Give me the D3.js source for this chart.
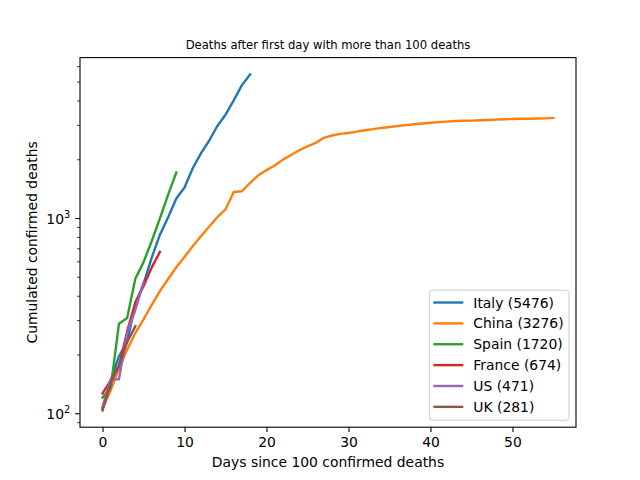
<!doctype html>
<html lang="en">
	<head>
		<meta charset="utf-8">
		<title>Deaths after first day with more than 100 deaths</title>
		<script src="https://d3js.org/d3.v7.min.js"></script>
		<style>
			body { margin: 0; background: #fff; }
			text { font-family: 'DejaVu Sans', sans-serif; fill: #000; }
			.series path { fill: none; stroke-width: 2.4px; stroke-linejoin: round; stroke-linecap: square; }
		</style>
	</head>
	<body>
		<div id="chart"></div>

		<script>
			// cumulated deaths, one value per day since the first day over 100
			let countries = ['Italy', 'China', 'Spain', 'France', 'US', 'UK']
			let colors = ['#1f77b4', '#ff7f0e', '#2ca02c', '#d62728', '#9467bd', '#8c564b']

			let italy = [107, 148, 197, 233, 366, 463, 631, 827, 1016, 1266, 1441, 1809, 2158, 2503, 2978, 3405, 4032, 4825, 5476]
			let china = [106, 132, 170, 213, 259, 304, 361, 425, 490, 563, 636, 722, 811, 908, 1016, 1113,
				1367, 1380, 1523, 1665, 1770, 1868, 2004, 2118, 2236, 2345, 2442, 2592, 2663, 2715, 2744, 2788,
				2835, 2870, 2912, 2943, 2981, 3012, 3042, 3070, 3097, 3119, 3136, 3158, 3169, 3176, 3189, 3199,
				3213, 3226, 3237, 3245, 3248, 3255, 3261, 3276]
			let spain = [121, 136, 289, 309, 491, 598, 767, 1002, 1326, 1720]
			let france = [127, 148, 175, 264, 372, 450, 562, 674]
			let us = [108, 150, 150, 260, 340, 471]
			let uk = [104, 144, 177, 233, 281]

			let xTicks = [0, 10, 20, 30, 40, 50]

			let series = [italy, china, spain, france, us, uk]

			let width = 640
			let height = 480
			let margin = {left: 80, right: 64, top: 57.6, bottom: 52.8}
			let plotW = width - margin.left - margin.right
			let plotH = height - margin.top - margin.bottom

			// matplotlib style 5% padding (log space for y)
			let maxDay = d3.max(series, s => s.length - 1)
			let xPad = maxDay * 0.05
			let allVals = series.flat()
			let lo = Math.log10(d3.min(allVals))
			let hi = Math.log10(d3.max(allVals))
			let yPad = (hi - lo) * 0.05

			let x = d3.scaleLinear()
				.domain([-xPad, maxDay + xPad])
				.range([0, plotW])
			let y = d3.scaleLog()
				.domain([Math.pow(10, lo - yPad), Math.pow(10, hi + yPad)])
				.range([plotH, 0])

			let svg = d3.select('#chart')
				.append('svg')
				.attr('width', width)
				.attr('height', height)

			let g = svg.append('g')
				.attr('transform', `translate(${margin.left},${margin.top})`)

			// lines
			let line = d3.line()
				.x((d, i) => x(i))
				.y(d => y(d))

			g.append('g')
				.attr('class', 'series')
				.selectAll('path')
				.data(series)
				.enter().append('path')
					.attr('d', line)
					.attr('stroke', (d, i) => colors[i])

			// x axis
			let xAxis = g.append('g')
				.attr('transform', `translate(0,${plotH})`)
				.call(d3.axisBottom(x).tickValues(xTicks).tickSize(4.9).tickPadding(4.9))
			xAxis.select('.domain').remove()
			xAxis.selectAll('line').attr('stroke', '#000').attr('stroke-width', 1.1)
			xAxis.selectAll('text')
				.style('font-family', 'DejaVu Sans')
				.style('font-size', '13.9px')
				.attr('fill', '#000')

			// y axis (log): majors at powers of ten, minors in between
			let allTicks = y.ticks()
			let isMajor = v => Math.abs(Math.log10(v) - Math.round(Math.log10(v))) < 1e-9
			let yAxis = g.append('g')
			yAxis.selectAll('line')
				.data(allTicks)
				.enter().append('line')
					.attr('x1', d => isMajor(d) ? -4.9 : -2.8)
					.attr('x2', 0)
					.attr('y1', d => y(d))
					.attr('y2', d => y(d))
					.attr('stroke', '#000')
					.attr('stroke-width', d => isMajor(d) ? 1.1 : 0.8)

			let yLabels = yAxis.selectAll('text')
				.data(allTicks.filter(isMajor))
				.enter().append('text')
					.attr('x', -9.8)
					.attr('y', d => y(d) + 5)
					.attr('text-anchor', 'end')
					.style('font-size', '13.9px')
			yLabels.append('tspan').text('10')
			yLabels.append('tspan')
				.attr('dy', -6)
				.style('font-size', '9.7px')
				.text(d => Math.round(Math.log10(d)))

			// frame
			g.append('rect')
				.attr('width', plotW)
				.attr('height', plotH)
				.attr('fill', 'none')
				.attr('stroke', '#000')
				.attr('stroke-width', 1.1)

			// title and axis labels
			svg.append('text')
				.attr('x', margin.left + plotW / 2)
				.attr('y', margin.top - 8.5)
				.attr('text-anchor', 'middle')
				.style('font-size', '11.6px')
				.text('Deaths after first day with more than 100 deaths')

			svg.append('text')
				.attr('x', margin.left + plotW / 2)
				.attr('y', 467)
				.attr('text-anchor', 'middle')
				.style('font-size', '13.9px')
				.text('Days since 100 confirmed deaths')

			svg.append('text')
				.attr('transform', `translate(37,${margin.top + plotH / 2}) rotate(-90)`)
				.attr('text-anchor', 'middle')
				.style('font-size', '13.9px')
				.text('Cumulated confirmed deaths')

			// legend, lower right
			let legW = 139.7
			let legH = 130
			let rowH = 20.87
			let legend = g.append('g')
				.attr('transform', `translate(${plotW - 7 - legW},${plotH - 7 - legH})`)
			legend.append('rect')
				.attr('width', legW)
				.attr('height', legH)
				.attr('rx', 3)
				.attr('fill', 'rgba(255,255,255,0.8)')
				.attr('stroke', '#cccccc')
				.attr('stroke-width', 1)

			let rows = legend.selectAll('.row')
				.data(countries)
				.enter().append('g')
					.attr('class', 'row')
					.attr('transform', (d, i) => `translate(0,${12.3 + i * rowH})`)
			rows.append('line')
				.attr('x1', 4)
				.attr('x2', 34)
				.attr('stroke', (d, i) => colors[i])
				.attr('stroke-width', 2.4)
			rows.append('text')
				.attr('x', 44)
				.attr('y', 5)
				.style('font-size', '13.9px')
				.text((d, i) => `${d} (${series[i][series[i].length - 1]})`)
		</script>
</body>
</html>
